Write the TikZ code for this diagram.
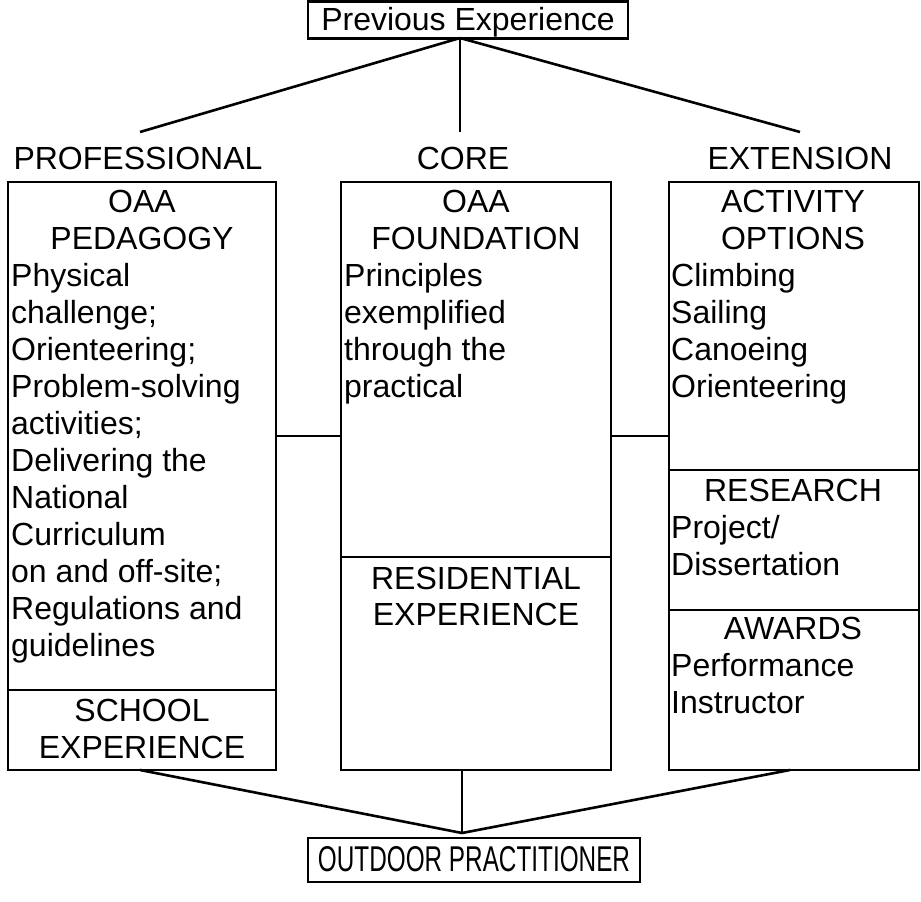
\documentclass[tikz,border=0pt]{standalone}
\usepackage{fontspec}
\setmainfont{Liberation Sans}
\begin{document}
\begin{tikzpicture}[x=1pt,y=-1pt,
  box/.style={draw=black, line width=2.6pt, inner sep=0pt, rectangle},
  ln/.style={draw=black, line width=2.6pt},
  txt/.style={inner sep=0pt, font=\fontsize{32}{37}\selectfont},
  ctr/.style={txt, anchor=base},
  lft/.style={txt, anchor=base west}]
\useasboundingbox (0,0) rectangle (921,902);
% top box
\node[box, minimum width=320pt, minimum height=37pt] (prev) at (468,20) {};
\node[ctr] (prevt) at (468,30) {Previous Experience};
\coordinate (pj) at (460,38);
% column labels
\node[ctr] (hprof) at (138,169) {PROFESSIONAL};
\node[ctr] (hcore) at (463,169) {CORE};
\node[ctr] (hext) at (800,169) {EXTENSION};
\coordinate (tl) at (140,132);
\coordinate (tm) at (460,132);
\coordinate (tr) at (800,132);
\draw[ln] (pj) -- (tl);
\draw[ln] (pj) -- (tm);
\draw[ln] (pj) -- (tr);
% boxes
\node[box, minimum width=268pt, minimum height=588pt] (lbox) at (142,476) {};
\node[box, minimum width=270pt, minimum height=588pt] (mbox) at (476,476) {};
\node[box, minimum width=250pt, minimum height=588pt] (rbox) at (794,476) {};
% dividers
\draw[ln] (lbox.west |- 0,690) -- (lbox.east |- 0,690);
\draw[ln] (mbox.west |- 0,557) -- (mbox.east |- 0,557);
\draw[ln] (rbox.west |- 0,470) -- (rbox.east |- 0,470);
\draw[ln] (rbox.west |- 0,610) -- (rbox.east |- 0,610);
% connectors between boxes
\draw[ln] (lbox.east |- 0,436) -- (mbox.west |- 0,436);
\draw[ln] (mbox.east |- 0,436) -- (rbox.west |- 0,436);
% left box text
\node[ctr] (l1) at (142,212) {OAA};
\node[ctr] (l2) at (142,249) {PEDAGOGY};
\foreach \t [count=\i from 0] in {Physical,challenge;,Orienteering;,Problem-solving,activities;,Delivering the,National,Curriculum,on and off-site;,Regulations and,guidelines}
  \node[lft] (lt\i) at (11,286+37*\i) {\t};
\node[ctr] (l3) at (142,721) {SCHOOL};
\node[ctr] (l4) at (142,758) {EXPERIENCE};
% middle box text
\node[ctr] (m1) at (476,212) {OAA};
\node[ctr] (m2) at (476,249) {FOUNDATION};
\foreach \t [count=\i from 0] in {Principles,exemplified,through the,practical}
  \node[lft] (mt\i) at (344,286+37*\i) {\t};
\node[ctr] (m3) at (476,589) {RESIDENTIAL};
\node[ctr] (m4) at (476,625) {EXPERIENCE};
% right box text
\node[ctr] (r1) at (793,212) {ACTIVITY};
\node[ctr] (r2) at (793,249) {OPTIONS};
\foreach \t [count=\i from 0] in {Climbing,Sailing,Canoeing,Orienteering}
  \node[lft] (rt\i) at (671,286+37*\i) {\t};
\node[ctr] (r3) at (793,501) {RESEARCH};
\node[lft] (r4) at (671,538) {Project/};
\node[lft] (r5) at (671,575) {Dissertation};
\node[ctr] (r6) at (793,639) {AWARDS};
\node[lft] (r7) at (671,676) {Performance};
\node[lft] (r8) at (671,713) {Instructor};
% bottom
\coordinate (bl) at (140,770);
\coordinate (bm) at (462,770);
\coordinate (br) at (790,770);
\coordinate (bj) at (462,833);
\draw[ln] (bl) -- (bj);
\draw[ln] (bm) -- (bj);
\draw[ln] (br) -- (bj);
\node[box, minimum width=332pt, minimum height=44pt] (out) at (474,860) {};
\node[ctr, xscale=0.76, yscale=1.12] (outt) at (474,871) {OUTDOOR PRACTITIONER};
\end{tikzpicture}
\end{document}
